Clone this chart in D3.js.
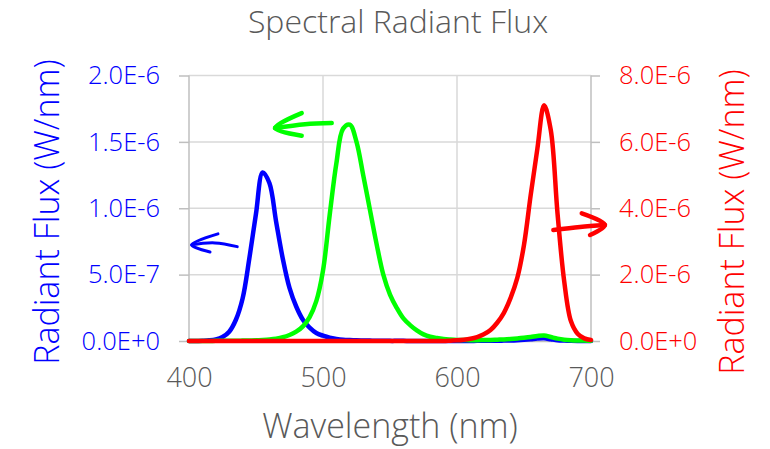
<!DOCTYPE html>
<html>
<head>
<meta charset="utf-8">
<script src="https://cdn.jsdelivr.net/npm/d3@7"></script>
<style>
  body { margin: 0; background: #fff; }
  text { font-family: "Open Sans", sans-serif; font-weight: 300; }
</style>
</head>
<body>
<div id="vis"></div>
<script>
// wavelength samples (nm)
const wavelengths = d3.range(400, 701, 5);

// left axis series (W/nm, x1e-6)
const blueFlux = [0, 0, 0.002, 0.005, 0.012, 0.03, 0.07, 0.16, 0.32, 0.62,
  0.96, 1.27, 1.19, 0.9, 0.62, 0.4, 0.26, 0.16, 0.1, 0.06,
  0.04, 0.025, 0.016, 0.01, 0.007, 0.005, 0.004, 0.003, 0.002, 0.002,
  0.001, 0.001, 0.001, 0, 0, 0, 0, 0, 0, 0,
  0, 0, 0, 0.001, 0.001, 0.002, 0.002, 0.003, 0.004, 0.006,
  0.009, 0.013, 0.018, 0.02, 0.013, 0.006, 0.003, 0.001, 0, 0, 0];

const greenFlux = [0, 0, 0, 0, 0.001, 0.001, 0.002, 0.002, 0.003, 0.004,
  0.005, 0.008, 0.012, 0.018, 0.028, 0.045, 0.07, 0.11, 0.18, 0.3,
  0.53, 0.95, 1.34, 1.6, 1.63, 1.5, 1.25, 0.99, 0.73, 0.5,
  0.35, 0.25, 0.17, 0.12, 0.08, 0.05, 0.032, 0.022, 0.015, 0.011,
  0.008, 0.007, 0.006, 0.006, 0.007, 0.008, 0.01, 0.012, 0.015, 0.019,
  0.024, 0.03, 0.038, 0.042, 0.03, 0.018, 0.01, 0.006, 0.004, 0.003, 0.002];

// right axis series (W/nm, x1e-6)
const redFlux = [0, 0, 0, 0, 0, 0, 0, 0, 0, 0,
  0, 0, 0, 0, 0, 0, 0, 0, 0, 0,
  0, 0, 0, 0, 0, 0, 0, 0, 0, 0,
  0, 0, 0, 0, 0, 0, 0, 0, 0, 0.01,
  0.02, 0.04, 0.07, 0.12, 0.2, 0.33, 0.55, 0.85, 1.3, 1.9,
  2.9, 4.4, 5.8, 7.1, 6.35, 3.85, 1.8, 0.6, 0.22, 0.08, 0.03];

const xTicks = [400, 500, 600, 700];
const leftTicks = [0, 0.5, 1.0, 1.5, 2.0];
const leftTickLabels = ["0.0E+0", "5.0E-7", "1.0E-6", "1.5E-6", "2.0E-6"];
const rightTicks = [0, 2, 4, 6, 8];
const rightTickLabels = ["0.0E+0", "2.0E-6", "4.0E-6", "6.0E-6", "8.0E-6"];

// hand drawn arrows, [wavelength, value] (value in x1e-6 of its own axis)
const blueArrowShaft = [[436, 0.711], [419.4, 0.739], [402, 0.724]];
const blueArrowHead = [[421.6, 0.807], [402, 0.724], [415.7, 0.671]];
const greenArrowShaft = [[506.5, 1.642], [486.6, 1.633], [464.2, 1.604]];
const greenArrowHead = [[484.1, 1.717], [464.2, 1.604], [484.1, 1.546]];
const redArrowShaft = [[671.9, 3.345], [691.8, 3.435], [710.4, 3.495]];
const redArrowHead = [[693.1, 3.848], [710.4, 3.495], [699.3, 3.194]];

var width = 770;
var height = 449;
var plotLeft = 189, plotRight = 591, plotTop = 75.5, plotBottom = 341;
const GRID = "#d9d9d9";
const AXIS = "#bfbfbf";
const TEXT = "#595959";

var svg = d3.select("#vis").append("svg")
  .attr("width", width)
  .attr("height", height);

var x = d3.scaleLinear().domain([400, 700]).range([plotLeft, plotRight]);
var yL = d3.scaleLinear().domain([0, 2]).range([plotBottom, plotTop]);
var yR = d3.scaleLinear().domain([0, 8]).range([plotBottom, plotTop]);

// gridlines
svg.append("g").selectAll("line").data(leftTicks.slice(1)).enter().append("line")
  .attr("x1", plotLeft).attr("x2", plotRight)
  .attr("y1", d => yL(d)).attr("y2", d => yL(d))
  .attr("stroke", GRID).attr("stroke-width", 1.5);
svg.append("g").selectAll("line").data([500, 600]).enter().append("line")
  .attr("x1", d => x(d)).attr("x2", d => x(d))
  .attr("y1", plotTop).attr("y2", plotBottom)
  .attr("stroke", GRID).attr("stroke-width", 1.5);

// axes
var gL = svg.append("g").attr("transform", "translate(" + plotLeft + ",0)")
  .call(d3.axisLeft(yL).tickValues(leftTicks).tickSize(10).tickPadding(19)
    .tickFormat((d, i) => leftTickLabels[i]));
var gR = svg.append("g").attr("transform", "translate(" + plotRight + ",0)")
  .call(d3.axisRight(yR).tickValues(rightTicks).tickSize(9).tickPadding(19)
    .tickFormat((d, i) => rightTickLabels[i]));
var gX = svg.append("g").attr("transform", "translate(0," + plotBottom + ")")
  .call(d3.axisBottom(x).tickValues(xTicks).tickSize(0).tickPadding(27)
    .tickFormat(d3.format("d")));

[gL, gR, gX].forEach(function (g) {
  g.select(".domain").attr("stroke", AXIS).attr("stroke-width", 1.5);
  g.selectAll(".tick line").attr("stroke", AXIS).attr("stroke-width", 1.5);
  g.selectAll(".tick text").attr("font-family", "Open Sans").attr("font-size", 25.5);
});
gL.selectAll(".tick text").attr("fill", "#0000ff");
gR.selectAll(".tick text").attr("fill", "#ff0000");
gX.selectAll(".tick text").attr("fill", TEXT).attr("font-size", 27);
gR.select(".domain").attr("d", "M0," + plotTop + "V" + plotBottom);
gL.select(".domain").attr("d", "M0," + plotTop + "V" + plotBottom);

// spectra
function drawSeries(values, yScale, color) {
  var line = d3.line()
    .x((d, i) => x(wavelengths[i]))
    .y(d => yScale(Math.max(0, d)))
    .curve(d3.curveCatmullRom);
  svg.append("path")
    .attr("d", line(values))
    .attr("fill", "none")
    .attr("stroke", color)
    .attr("stroke-width", 4.5)
    .attr("stroke-linejoin", "round")
    .attr("stroke-linecap", "round");
}
drawSeries(blueFlux, yL, "#0000ff");
drawSeries(greenFlux, yL, "#00ff00");
drawSeries(redFlux, yR, "#ff0000");

// arrows
function drawArrow(points, yScale, color, w) {
  var line = d3.line()
    .x(d => x(d[0])).y(d => yScale(d[1]))
    .curve(d3.curveCatmullRom);
  svg.append("path")
    .attr("d", line(points))
    .attr("fill", "none")
    .attr("stroke", color)
    .attr("stroke-width", w)
    .attr("stroke-linejoin", "round")
    .attr("stroke-linecap", "round");
}
drawArrow(blueArrowShaft, yL, "#0000ff", 3);
drawArrow(blueArrowHead, yL, "#0000ff", 3);
drawArrow(greenArrowShaft, yL, "#00ff00", 4.5);
drawArrow(greenArrowHead, yL, "#00ff00", 4.5);
drawArrow(redArrowShaft, yR, "#ff0000", 4.5);
drawArrow(redArrowHead, yR, "#ff0000", 4.5);

// titles
svg.append("text")
  .attr("x", 398).attr("y", 33)
  .attr("text-anchor", "middle")
  .attr("font-size", 32)
  .attr("fill", TEXT)
  .text("Spectral Radiant Flux");

svg.append("text")
  .attr("x", 390).attr("y", 438)
  .attr("text-anchor", "middle")
  .attr("font-size", 34)
  .attr("fill", TEXT)
  .text("Wavelength (nm)");

svg.append("text")
  .attr("transform", "translate(59,212) rotate(-90)")
  .attr("text-anchor", "middle")
  .attr("font-size", 34)
  .attr("fill", "#0000ff")
  .text("Radiant Flux (W/nm)");

svg.append("text")
  .attr("transform", "translate(744,222) rotate(-90)")
  .attr("text-anchor", "middle")
  .attr("font-size", 34)
  .attr("fill", "#ff0000")
  .text("Radiant Flux (W/nm)");
</script>
</body>
</html>
